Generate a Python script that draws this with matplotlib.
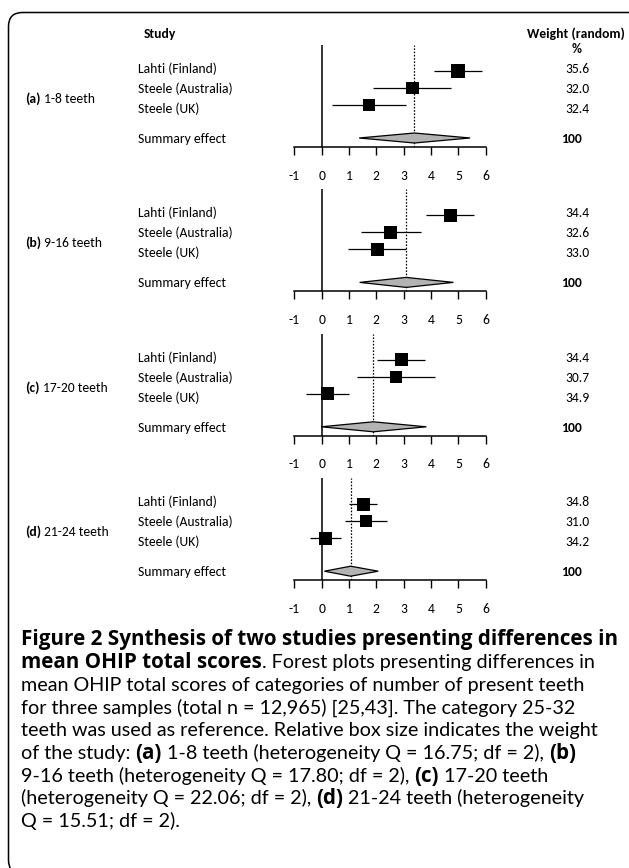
import matplotlib
matplotlib.use("Agg")
import matplotlib.pyplot as plt
from matplotlib import font_manager
from matplotlib.patches import FancyBboxPatch
from matplotlib.transforms import IdentityTransform
import numpy as np

# ---------------- data ----------------
panel_tags = ["(a)", "(b)", "(c)", "(d)"]
panel_names = ["1-8 teeth", "9-16 teeth", "17-20 teeth", "21-24 teeth"]
studies = ["Lahti (Finland)", "Steele (Australia)", "Steele (UK)"]
summary_label = "Summary effect"

est_a = [4.99, 3.33, 1.73]
est_b = [4.70, 2.52, 2.04]
est_c = [2.91, 2.72, 0.22]
est_d = [1.52, 1.63, 0.13]
lo_a = [4.12, 1.88, 0.37]
lo_b = [3.83, 1.43, 0.96]
lo_c = [2.02, 1.28, -0.56]
lo_d = [1.00, 0.84, -0.41]
hi_a = [5.85, 4.74, 3.07]
hi_b = [5.57, 3.62, 3.07]
hi_c = [3.78, 4.16, 1.01]
hi_d = [2.04, 2.40, 0.72]
weights_a = [35.6, 32.0, 32.4]
weights_b = [34.4, 32.6, 33.0]
weights_c = [34.4, 30.7, 34.9]
weights_d = [34.8, 31.0, 34.2]
summary_est = [3.39, 3.09, 1.89, 1.06]
summary_lo = [1.37, 1.39, -0.02, 0.10]
summary_hi = [5.43, 4.82, 3.83, 2.07]
total_weight = "100"
xticks = [-1, 0, 1, 2, 3, 4, 5, 6]

estimates = [est_a, est_b, est_c, est_d]
lows = [lo_a, lo_b, lo_c, lo_d]
highs = [hi_a, hi_b, hi_c, hi_d]
weights = [weights_a, weights_b, weights_c, weights_d]

caption_lines = [
    [("Figure 2 Synthesis of two studies presenting differences in", True)],
    [("mean OHIP total scores", True), (". Forest plots presenting differences in", False)],
    [("mean OHIP total scores of categories of number of present teeth", False)],
    [("for three samples (total n = 12,965) [25,43]. The category 25-32", False)],
    [("teeth was used as reference. Relative box size indicates the weight", False)],
    [("of the study: ", False), ("(a)", True), (" 1-8 teeth (heterogeneity Q = 16.75; df = 2), ", False), ("(b)", True)],
    [("9-16 teeth (heterogeneity Q = 17.80; df = 2), ", False), ("(c)", True), (" 17-20 teeth", False)],
    [("(heterogeneity Q = 22.06; df = 2), ", False), ("(d)", True), (" 21-24 teeth (heterogeneity", False)],
    [("Q = 15.51; df = 2).", False)],
]


def has_font(name):
    try:
        font_manager.findfont(font_manager.FontProperties(family=name),
                              fallback_to_default=False)
        return True
    except Exception:
        return False


# ---------------- layout ----------------
W, H, DPI = 629, 868, 100
FONT = "Carlito" if has_font("Carlito") else "Lato"
CAP_FONT = "Lato"
CAP_FONT_BOLD = "Open Sans" if has_font("Open Sans") else "Lato"

fig = plt.figure(figsize=(W / DPI, H / DPI), dpi=DPI)
fig.patch.set_facecolor("white")
renderer = fig.canvas.get_renderer()

bg = fig.add_axes([0, 0, 1, 1], zorder=0)
bg.set_xlim(0, W)
bg.set_ylim(H, 0)
bg.axis("off")


def text_w(s, size, family, bold):
    t = bg.text(0, 0, s, fontsize=size, family=family,
                weight="bold" if bold else "normal")
    w = t.get_window_extent(renderer).width
    t.remove()
    return w


def fit(s, family, bold, target):
    return 10.0 * target / text_w(s, 10.0, family, bold)


def space_w(size, family, bold):
    return text_w("x x", size, family, bold) - text_w("xx", size, family, bold)


def rich(x, y_center, segs, size, family, size_bold=None, family_bold=None):
    if size_bold is None:
        size_bold = size
    if family_bold is None:
        family_bold = family
    px = size / 72.0 * DPI
    base = y_center + 0.36 * px
    for s, bold in segs:
        sz = size_bold if bold else size
        fam = family_bold if bold else family
        lead = len(s) - len(s.lstrip(" "))
        trail = len(s) - len(s.rstrip(" "))
        core = s.strip(" ")
        sw = space_w(sz, fam, bold)
        x += lead * sw
        if core:
            bg.text(x, base, core, fontsize=sz, family=fam,
                    weight="bold" if bold else "normal", ha="left",
                    va="baseline", color="black")
            x += text_w(core, sz, fam, bold)
        x += trail * sw
    return x


def ctext(x, y_center, s, size, family, bold=False, ha="center"):
    px = size / 72.0 * DPI
    bg.text(x, y_center + 0.36 * px, s, fontsize=size, family=family,
            weight="bold" if bold else "normal", ha=ha, va="baseline",
            color="black")


# border (rounded box partially cut at the right and bottom)
border = FancyBboxPatch((8.5, -6), 640, H - 12.5 + 6,
                        boxstyle="round,pad=0,rounding_size=14",
                        transform=IdentityTransform(), facecolor="none",
                        edgecolor="black", linewidth=1.1, zorder=5)
fig.add_artist(border)

lab_size = 0.5 * (fit("Steele (Australia)", FONT, False, 92)
                  + fit("Summary effect", FONT, False, 91))
tick_size = lab_size
cap_size = fit(caption_lines[2][0][0], CAP_FONT, False, 566)
cap_size_bold = fit(caption_lines[0][0][0], CAP_FONT_BOLD, True, 599)

X_LEFT, X_RIGHT = 294.3, 485.7
PANEL_H = 102
PANEL_TOP0 = 45
PANEL_STEP = 144.4
ROW_Y = [26, 43, 60]
SUM_Y = 93
LABEL_Y = [23, 43, 63]
SUM_LABEL_Y = 93
GROUP_Y = 53
BOX_PX = 13.0
DIAMOND_HALF = 5.0

# headers
ctext(144, 33, "Study", lab_size, FONT, bold=True, ha="left")
ctext(576, 33, "Weight (random)", lab_size, FONT, bold=True)
ctext(577, 48, "%", lab_size, FONT, bold=True)

for i in range(4):
    top = PANEL_TOP0 + PANEL_STEP * i
    ax = fig.add_axes([X_LEFT / W, 1 - (top + PANEL_H) / H,
                       (X_RIGHT - X_LEFT) / W, PANEL_H / H], zorder=2)
    ax.set_xlim(-1, 6)
    ax.set_ylim(PANEL_H, 0)
    ax.patch.set_alpha(0)
    for sp in ["top", "left", "right"]:
        ax.spines[sp].set_visible(False)
    ax.spines["bottom"].set_linewidth(1.1)
    ax.set_yticks([])
    ax.set_xticks(xticks)
    ax.set_xticklabels([str(t) for t in xticks], family=FONT, fontsize=tick_size)
    ax.tick_params(axis="x", direction="out", length=8 * 0.72, width=1.0,
                   pad=10.5, colors="black")

    ax.axvline(0, color="black", lw=1.1, zorder=1)
    ax.axvline(summary_est[i], color="black", lw=0.9,
               linestyle=(0, (1.3, 1.3)), zorder=1)

    w = np.array(weights[i])
    side_pt = BOX_PX * np.sqrt(w / 33.3) * 0.72
    ax.hlines(ROW_Y, lows[i], highs[i], color="black", lw=0.9, zorder=2,
              clip_on=False)
    ax.scatter(estimates[i], ROW_Y, marker="s", s=side_pt ** 2, c="black",
               linewidths=0, zorder=3, clip_on=False)

    dx = [summary_lo[i], summary_est[i], summary_hi[i], summary_est[i]]
    dy = [SUM_Y, SUM_Y - DIAMOND_HALF, SUM_Y, SUM_Y + DIAMOND_HALF]
    ax.fill(dx, dy, facecolor="#b3b3b3", edgecolor="black", lw=0.9,
            zorder=3, clip_on=False)

    # left labels
    rich(25, top + GROUP_Y, [(panel_tags[i], True), (" " + panel_names[i], False)],
         lab_size, FONT)
    for j, s in enumerate(studies):
        ctext(138, top + LABEL_Y[j], s, lab_size, FONT, ha="left")
        ctext(577, top + LABEL_Y[j], f"{weights[i][j]:.1f}", lab_size, FONT)
    ctext(138, top + SUM_LABEL_Y, summary_label, lab_size, FONT, ha="left")
    ctext(571, top + SUM_LABEL_Y, total_weight, lab_size, FONT, bold=True)

# caption
for k, segs in enumerate(caption_lines):
    rich(21, 638 + 22.75 * k, segs, cap_size, CAP_FONT,
         size_bold=cap_size_bold, family_bold=CAP_FONT_BOLD)

fig.savefig("out.png", dpi=DPI, facecolor="white")
